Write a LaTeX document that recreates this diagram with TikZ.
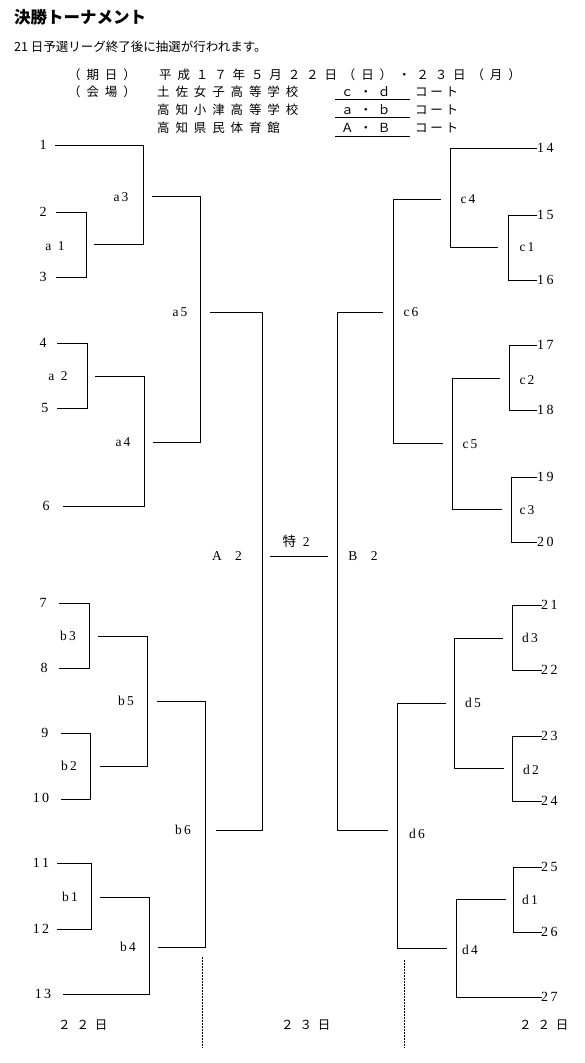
\documentclass[tikz,border=0pt]{standalone}
\usepackage{fontspec}
\setmainfont{Liberation Serif}
\newfontfamily\jp{Noto Sans CJK JP}
\newfontfamily\jpsp[LetterSpace=47]{Noto Sans CJK JP}
\newfontfamily\jpko[LetterSpace=22]{Noto Sans CJK JP}
\tikzset{
	bline/.style = {line width=0.9pt},
	daymark/.style = {line width=1pt, dash pattern=on 2pt off 1pt},
	team/.style = {font=\fontsize{14}{14}\selectfont, inner sep=0pt},
	match/.style = {font=\fontsize{13.5}{14}\selectfont, inner sep=0pt},
	hdr/.style = {font=\jpsp\fontsize{12.5}{13}\selectfont, anchor=west, inner sep=0pt}
}
\begin{document}
\begin{tikzpicture}[x=1pt, y=-1pt]
		\useasboundingbox (0,0) rectangle (584,1063);
		% heading
		\node[anchor=west, inner sep=0pt, font=\jp\bfseries\fontsize{16.5}{17}\selectfont] (title) at (14,17) {決勝トーナメント};
		\node[anchor=west, inner sep=0pt, font=\jp\fontsize{12.5}{13}\selectfont] (draw) at (14,47) {21 日予選リーグ終了後に抽選が行われます。};
		\node[hdr] (kijitsu) at (68,75) {（期日）};
		\node[hdr] (kaijo) at (68,92) {（会場）};
		\node[hdr] (date) at (159,75) {平成１７年５月２２日（日）・２３日（月）};
		\node[hdr] (hall1) at (157,92) {土佐女子高等学校};
		\node[hdr] (hall2) at (157,110) {高知小津高等学校};
		\node[hdr] (hall3) at (157,128) {高知県民体育館};
		\node[hdr] (cd) at (341,92) {ｃ・ｄ};
		\node[hdr] (ab) at (341,110) {ａ・ｂ};
		\node[hdr] (AB) at (341,128) {Ａ・Ｂ};
		\draw[bline] (335,99) -- (410,99);
		\draw[bline] (335,117) -- (410,117);
		\draw[bline] (335,136) -- (410,136);
		\node[hdr, font=\jpko\fontsize{12.5}{13}\selectfont] (court1) at (415,92) {コート};
		\node[hdr, font=\jpko\fontsize{12.5}{13}\selectfont] (court2) at (415,110) {コート};
		\node[hdr, font=\jpko\fontsize{12.5}{13}\selectfont] (court3) at (415,128) {コート};
		% left teams
		\node[team] (t1) at (43,145) {1};
		\node[team] (t2) at (43,212) {2};
		\node[team] (t3) at (43,277) {3};
		\node[team] (t4) at (43,343) {4};
		\node[team] (t5) at (45,408) {5};
		\node[team] (t6) at (46,506) {6};
		\node[team] (t7) at (43,603) {7};
		\node[team] (t8) at (44,668) {8};
		\node[team] (t9) at (45,733) {9};
		\node[team] (t10) at (41,798) {1\,0};
		\node[team] (t11) at (41,863) {1\,1};
		\node[team] (t12) at (41,929) {1\,2};
		\node[team] (t13) at (43,994) {1\,3};
		% right teams
		\node[team, anchor=west] (t14) at (537,148) {1\,4};
		\node[team, anchor=west] (t15) at (537,215) {1\,5};
		\node[team, anchor=west] (t16) at (537,280) {1\,6};
		\node[team, anchor=west] (t17) at (537,345) {1\,7};
		\node[team, anchor=west] (t18) at (537,410) {1\,8};
		\node[team, anchor=west] (t19) at (537,477) {1\,9};
		\node[team, anchor=west] (t20) at (537,542) {2\,0};
		\node[team, anchor=west] (t21) at (541,605) {2\,1};
		\node[team, anchor=west] (t22) at (541,670) {2\,2};
		\node[team, anchor=west] (t23) at (541,736) {2\,3};
		\node[team, anchor=west] (t24) at (541,801) {2\,4};
		\node[team, anchor=west] (t25) at (541,867) {2\,5};
		\node[team, anchor=west] (t26) at (541,932) {2\,6};
		\node[team, anchor=west] (t27) at (541,997) {2\,7};
		% left bracket
		\draw[bline] (56,212) -| (86,277) -- (56,277);
		\draw[bline] (57,343) -| (87,408) -- (57,408);
		\draw[bline] (55,145) -| (143,244) -- (94,244);
		\draw[bline] (95,376) -| (144,506) -- (63,506);
		\draw[bline] (152,196) -| (200,442) -- (153,442);
		\draw[bline] (59,603) -| (89,668) -- (59,668);
		\draw[bline] (61,733) -| (90,799) -- (61,799);
		\draw[bline] (98,636) -| (147,766) -- (100,766);
		\draw[bline] (57,863) -| (91,929) -- (57,929);
		\draw[bline] (100,897) -| (149,994) -- (63,994);
		\draw[bline] (157,701) -| (205,947) -- (158,947);
		\draw[bline] (210,312) -| (262,830) -- (216,830);
		% right bracket
		\draw[bline] (537,215) -| (508,280) -- (537,280);
		\draw[bline] (537,345) -| (509,410) -- (537,410);
		\draw[bline] (537,477) -| (511,542) -- (537,542);
		\draw[bline] (537,148) -| (450,247) -- (498,247);
		\draw[bline] (500,378) -| (452,509) -- (502,509);
		\draw[bline] (441,199) -| (393,443) -- (443,443);
		\draw[bline] (542,605) -| (512,670) -- (542,670);
		\draw[bline] (542,736) -| (512,801) -- (542,801);
		\draw[bline] (542,867) -| (513,932) -- (542,932);
		\draw[bline] (503,638) -| (454,768) -- (504,768);
		\draw[bline] (506,899) -| (456,997) -- (542,997);
		\draw[bline] (446,703) -| (397,948) -- (447,948);
		\draw[bline] (383,312) -| (337,830) -- (388,830);
		% final
		\draw[bline] (270,556) -- (328,556);
		% match labels
		\node[match] (a1) at (55,246) {a\enspace 1};
		\node[match] (a2) at (58,376) {a\enspace 2};
		\node[match] (a3) at (121,197) {a\,3};
		\node[match] (a4) at (123,442) {a\,4};
		\node[match] (a5) at (180,312) {a\,5};
		\node[match] (b3) at (68,636) {b\,3};
		\node[match] (b2) at (69,766) {b\,2};
		\node[match] (b5) at (126,701) {b\,5};
		\node[match] (b1) at (70,897) {b\,1};
		\node[match] (b4) at (128,947) {b\,4};
		\node[match] (b6) at (183,830) {b\,6};
		\node[match] (c4) at (468,199) {c\,4};
		\node[match] (c1) at (527,247) {c\,1};
		\node[match] (c6) at (411,312) {c\,6};
		\node[match] (c2) at (527,380) {c\,2};
		\node[match] (c5) at (470,444) {c\,5};
		\node[match] (c3) at (527,510) {c\,3};
		\node[match] (d3) at (530,638) {d\,3};
		\node[match] (d5) at (473,703) {d\,5};
		\node[match] (d2) at (531,770) {d\,2};
		\node[match] (d6) at (417,834) {d\,6};
		\node[match] (d1) at (530,900) {d\,1};
		\node[match] (d4) at (470,950) {d\,4};
		\node[match] (A2) at (227,556) {A\quad 2};
		\node[match] (B2) at (363,556) {B\quad 2};
		\node[match] (toku2) at (296,541) {{\jp 特}\enspace 2};
		% days
		\draw[daymark] (202,957) -- (202,1048);
		\draw[daymark] (404,960) -- (404,1048);
		\node[hdr] (day1) at (58,1025) {２２日};
		\node[hdr] (day2) at (281,1025) {２３日};
		\node[hdr] (day3) at (519,1025) {２２日};
	\end{tikzpicture}
\end{document}
